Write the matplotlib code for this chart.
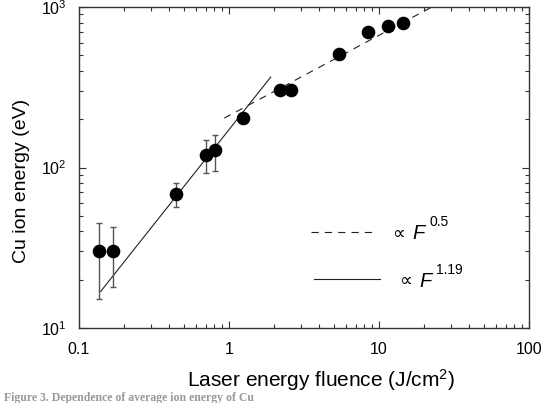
import matplotlib
matplotlib.use("Agg")
import matplotlib.pyplot as plt
from matplotlib.ticker import LogLocator, NullFormatter

plt.rcParams['font.family'] = ['Liberation Sans', 'DejaVu Sans']
plt.rcParams['mathtext.fontset'] = 'custom'
plt.rcParams['mathtext.rm'] = 'Liberation Sans'
plt.rcParams['mathtext.it'] = 'Liberation Sans:italic'
plt.rcParams['mathtext.default'] = 'regular'

# --- data ---
fluence = [0.136, 0.169, 0.441, 0.699, 0.807, 1.245, 2.19, 2.60, 5.39, 8.41, 11.5, 14.45]
energy = [30, 30, 68.6, 120.5, 128.3, 204, 303, 303, 506, 698, 760, 794]

err_fluence = [0.136, 0.169, 0.441, 0.699, 0.807]
err_energy = [30, 30, 68.6, 120.5, 128.3]
err_low = [15.2, 18.1, 56.7, 92.3, 95.4]
err_high = [45.4, 42.3, 80.0, 149.4, 159.0]

# power-law fit lines (end points)
fit_slow_F = [0.93, 22.5]      # ∝ F^0.5
fit_slow_E = [203, 1000]
fit_fast_F = [0.1395, 1.897]   # ∝ F^1.19
fit_fast_E = [16.9, 366]

x_ticks = [0.1, 1, 10, 100]
x_ticklabels = ['0.1', '1', '10', '100']
y_ticks = [10, 100, 1000]
y_ticklabels = ['$10^{1}$', '$10^{2}$', '$10^{3}$']

W, H = 546, 403
fig = plt.figure(figsize=(W / 100, H / 100), dpi=100)
ax = fig.add_axes([79 / W, 1 - 328 / H, 450 / W, 321 / H])
ax.set_xscale('log')
ax.set_yscale('log')
ax.set_xlim(0.1, 100)
ax.set_ylim(10, 1000)

# error bars
yerr = [[e - l for e, l in zip(err_energy, err_low)],
        [h - e for e, h in zip(err_energy, err_high)]]
ax.errorbar(err_fluence, err_energy, yerr=yerr, fmt='none', ecolor='#555555',
            elinewidth=1.0, capsize=2.3, capthick=1.0, zorder=2)

# fit lines
DASH = (6.5, 5.5)
ln, = ax.plot(fit_slow_F, fit_slow_E, color='#222222', lw=0.8, zorder=1)
ln.set_dashes(DASH)
ax.plot(fit_fast_F, fit_fast_E, color='#222222', lw=0.8, zorder=1)

# data points
ax.plot(fluence, energy, 'o', color='black', markersize=8.8, zorder=3)

# legend drawn by hand
ld, = ax.plot([0.515, 0.66], [0.30, 0.30], transform=ax.transAxes, color='#222222', lw=0.8)
ld.set_dashes(DASH)
ax.plot([0.522, 0.669], [0.152, 0.152], transform=ax.transAxes, color='#222222', lw=0.8)

def leg_text(x0, y0, sup):
    ax.text(x0, y0, '\u221d', transform=ax.transAxes, fontsize=13,
            family=['DejaVu Sans'], va='center', ha='left')
    ax.text(x0 + 0.046, y0, 'F', transform=ax.transAxes, fontsize=14.5,
            style='italic', va='center', ha='left')
    ax.text(x0 + 0.083, y0 + 0.037, sup, transform=ax.transAxes, fontsize=10,
            va='center', ha='left')

leg_text(0.695, 0.293, '0.5')
leg_text(0.711, 0.145, '1.19')

# ticks
ax.set_xticks(x_ticks)
ax.set_xticklabels(x_ticklabels)
ax.set_yticks(y_ticks)
ax.set_yticklabels(y_ticklabels)
ax.xaxis.set_minor_locator(LogLocator(base=10, subs=range(2, 10)))
ax.yaxis.set_minor_locator(LogLocator(base=10, subs=range(2, 10)))
ax.xaxis.set_minor_formatter(NullFormatter())
ax.yaxis.set_minor_formatter(NullFormatter())
ax.tick_params(which='both', direction='in', top=True, right=True,
               labelsize=11.5, color='#333333')
ax.tick_params(which='major', length=5, width=0.8)
ax.tick_params(which='minor', length=3, width=0.8)
ax.tick_params(axis='x', which='major', pad=10)
ax.tick_params(axis='y', which='major', pad=9)
for s in ax.spines.values():
    s.set_linewidth(1.0)
    s.set_color('#333333')

fig.text(321 / W, 1 - 387 / H, 'Laser energy fluence (J/cm$^{2}$)', fontsize=15,
         ha='center', va='baseline')
fig.text(21.5 / W, 1 - 181 / H, 'Cu ion energy (eV)', fontsize=14,
         ha='center', va='center', rotation=90)

# caption below the chart
fig.text(4 / W, 1 - 401.5 / H, 'Figure 3. Dependence of average ion energy of Cu',
         fontsize=8.5, family=['Liberation Serif'], weight='bold', color='#999999',
         ha='left', va='baseline')

fig.savefig('out.png', dpi=100)
